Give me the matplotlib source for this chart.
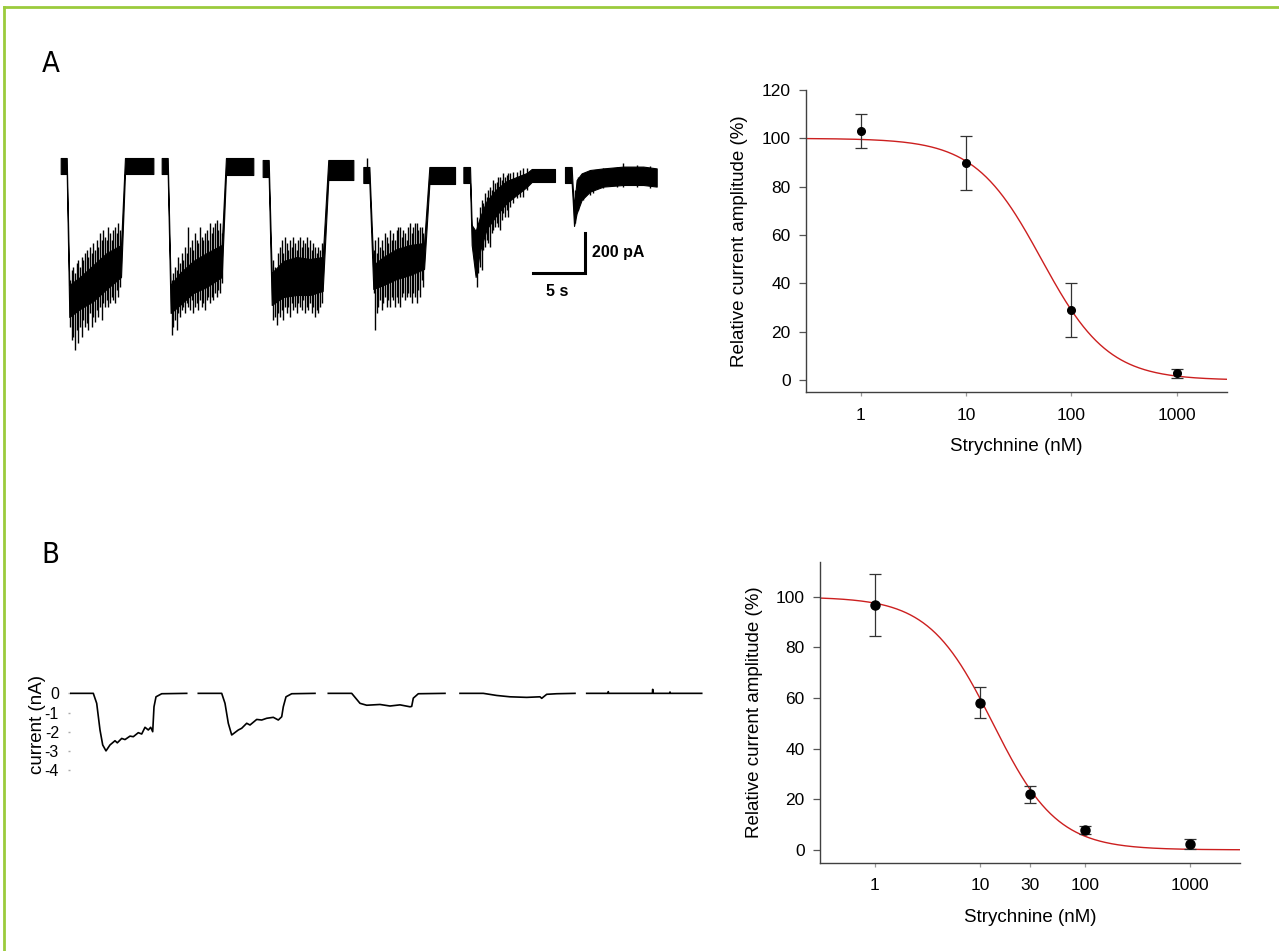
import numpy as np
import matplotlib.pyplot as plt
from matplotlib.lines import Line2D

plt.rcParams['font.family'] = ['Liberation Sans', 'DejaVu Sans']

# --- panel A, left: current trace (s, pA), dense core of each response ---
trace_a_t = [
    [1.99, 2.57, 2.82, 3.85, 5.13, 6.41, 7.79, 8.17, 10.90],
    [11.70, 12.28, 12.56, 13.46, 14.74, 16.03, 17.47, 17.88, 20.51],
    [21.41, 21.99, 22.28, 23.40, 24.68, 25.96, 27.18, 27.72, 30.13],
    [31.09, 31.67, 32.05, 33.02, 34.30, 35.58, 36.93, 37.44, 39.91],
    [40.71, 41.35, 41.51, 41.89, 42.31, 42.95, 43.91, 44.87, 45.83, 46.80, 47.28, 49.52],
    [50.48, 51.12, 51.22, 51.35, 51.60, 52.08, 52.89, 54.17, 56.09, 58.01, 59.30],
]
trace_a_hi = [
    [35, 35, -600, -560, -500, -440, -400, 35, 35],
    [35, 35, -600, -540, -480, -440, -400, 35, 35],
    [25, 25, -540, -480, -460, -470, -460, 25, 25],
    [-10, -10, -500, -460, -420, -400, -390, -10, -10],
    [-10, -10, -300, -330, -260, -180, -120, -80, -60, -40, -20, -20],
    [-10, -10, -108, -208, -75, -42, -25, -17, -8, -8, -17],
]
trace_a_lo = [
    [-45, -45, -760, -720, -680, -620, -560, -45, -45],
    [-45, -45, -740, -700, -640, -610, -560, -50, -50],
    [-60, -60, -700, -660, -650, -650, -630, -75, -75],
    [-90, -90, -620, -600, -570, -550, -520, -95, -95],
    [-90, -90, -400, -560, -430, -320, -250, -190, -150, -110, -85, -85],
    [-90, -90, -175, -305, -242, -175, -133, -108, -100, -100, -108],
]
# noise excursions: time, top, bottom
spike_a_t = [2.88, 3.04, 3.21, 3.37, 3.53, 3.69, 3.85, 4.01, 4.17, 4.33, 4.49, 4.65, 4.81, 4.97, 5.13, 5.29,
             5.45, 5.61, 5.77, 5.93, 6.09, 6.25, 6.41, 6.57, 6.73, 6.89, 7.05, 7.21, 7.37, 7.53, 7.69,
             12.66, 12.82, 12.98, 13.14, 13.30, 13.46, 13.62, 13.78, 13.94, 14.10, 14.26, 14.42, 14.58, 14.74,
             14.90, 15.06, 15.22, 15.38, 15.54, 15.71, 15.87, 16.03, 16.19, 16.35, 16.51, 16.67, 16.83, 16.99,
             17.15, 17.31, 17.47,
             22.44, 22.60, 22.76, 22.92, 23.08, 23.24, 23.40, 23.56, 23.72, 23.88, 24.04, 24.20, 24.36, 24.52,
             24.68, 24.84, 25.00, 25.16, 25.32, 25.48, 25.64, 25.80, 25.96, 26.12, 26.28, 26.44, 26.60, 26.76,
             26.92, 27.08,
             31.49, 32.12, 32.25, 32.37, 32.53, 32.69, 32.85, 33.02, 33.18, 33.34, 33.50, 33.66, 33.82, 33.98,
             34.14, 34.30, 34.46, 34.62, 34.78, 34.94, 35.10, 35.26, 35.42, 35.58, 35.74, 35.90, 36.06, 36.22,
             36.38, 36.54, 36.70, 36.86,
             41.99, 42.15, 42.31, 42.47, 42.63, 42.79, 42.95, 43.11, 43.27, 43.43, 43.59, 43.75, 43.91, 44.07,
             44.23, 44.39, 44.55, 44.71, 44.87, 45.03, 45.19, 45.51, 45.83, 46.16, 46.48, 46.80,
             51.45, 51.77, 52.25, 52.89, 53.14, 54.17, 55.45, 56.09, 57.37, 58.65]
spike_a_top = [-575, -525, -508, -542, -492, -475, -508, -458, -475, -442, -425, -458, -408, -442, -392, -425,
               -375, -408, -342, -375, -325, -358, -375, -308, -342, -375, -325, -308, -342, -292, -325,
               -575, -542, -508, -525, -458, -492, -442, -475, -408, -442, -308, -408, -375, -425,
               -342, -375, -392, -308, -358, -375, -342, -325, -375, -292, -342, -308, -292, -275,
               -325, -292, -342,
               -475, -508, -542, -442, -408, -375, -442, -358, -392, -425, -375, -408, -358, -392,
               -425, -375, -358, -408, -375, -392, -358, -408, -375, -425, -392, -408, -442, -408,
               -425, -392,
               33, -425, -375, -442, -358, -408, -375, -425, -342, -358, -392, -325, -375, -342,
               -375, -325, -308, -308, -358, -325, -342, -375, -308, -292, -342, -308, -292, -292,
               -325, -308, -308, -342,
               -258, -292, -208, -175, -192, -142, -158, -125, -108, -125, -75, -92, -83, -58,
               -58, -75, -42, -58, -50, -42, -42, -33, -33, -25, -17, -17,
               -125, -58, -42, -25, -33, -17, -8, 12, 0, -5]
spike_a_bot = [-808, -875, -858, -925, -825, -892, -808, -858, -775, -808, -792, -825, -742, -808, -758, -783,
               -725, -758, -708, -775, -692, -708, -675, -708, -692, -658, -675, -692, -625, -658, -608,
               -850, -808, -775, -825, -742, -758, -725, -708, -742, -692, -708, -725, -675, -742,
               -708, -692, -725, -675, -708, -692, -725, -675, -658, -692, -658, -675, -642, -658,
               -625, -642, -592,
               -775, -758, -800, -742, -758, -725, -775, -708, -742, -708, -758, -692, -725, -708,
               -742, -692, -708, -725, -675, -742, -708, -725, -692, -742, -708, -758, -725, -742,
               -708, -692,
               -50, -642, -825, -742, -708, -675, -725, -692, -658, -708, -675, -708, -658, -675,
               -708, -658, -692, -708, -658, -642, -675, -658, -642, -658, -692, -642, -658, -692,
               -625, -658, -575, -608,
               -608, -542, -508, -525, -425, -408, -375, -392, -408, -342, -325, -308, -292, -308,
               -325, -275, -242, -258, -225, -258, -208, -192, -167, -158, -158, -125,
               -292, -225, -175, -150, -142, -117, -108, -108, -108, -117]

# --- panel B, left: current trace (nA) ---
trace_b_t = [
    [0.07, 2.33, 2.67, 3.00, 3.27, 3.60, 4.00, 4.50, 4.73, 5.17, 5.50, 6.00, 6.33, 6.83, 7.17, 7.50, 7.83, 8.07,
     8.27, 8.40, 8.60, 9.17, 11.67],
    [12.83, 15.17, 15.50, 15.83, 16.17, 16.40, 16.83, 17.17, 17.67, 18.00, 18.67, 19.17, 19.67, 20.33, 20.83,
     21.17, 21.33, 21.60, 22.17, 24.50],
    [25.83, 28.17, 29.00, 29.67, 31.00, 32.00, 33.00, 34.00, 34.17, 34.33, 34.83, 37.50],
    [39.00, 41.33, 42.67, 44.00, 45.67, 47.00, 47.17, 47.67, 48.67, 50.50],
    [51.67, 53.80, 53.83, 53.86, 58.24, 58.27, 58.30, 59.97, 60.00, 60.03, 63.17],
]
trace_b_i = [
    [0, 0, -0.52, -1.91, -2.69, -3.0, -2.69, -2.47, -2.58, -2.35, -2.41, -2.23, -2.26, -2.05, -2.12, -1.77, -1.91,
     -1.77, -2.0, -0.70, -0.18, -0.02, 0],
    [0, 0, -0.52, -1.56, -2.17, -2.08, -1.91, -1.82, -1.56, -1.65, -1.36, -1.39, -1.30, -1.25, -1.39,
     -1.22, -0.70, -0.18, -0.02, 0],
    [0, 0, -0.52, -0.62, -0.58, -0.66, -0.60, -0.70, -0.68, -0.25, -0.02, 0],
    [0, 0, -0.11, -0.18, -0.21, -0.18, -0.26, -0.05, -0.02, 0],
    [0, 0, 0.09, 0, 0, 0.21, 0, 0, 0.07, 0, 0],
]
b_yticks = [0, -1, -2, -3, -4]

# --- dose response data ---
conc_a = [1, 10, 100, 1000]
resp_a = [103, 89.9, 29, 2.8]
err_a = [7, 11.2, 11, 2]
ic50_a, hill_a = 52.0, 1.37

conc_b = [1, 10, 30, 100, 1000]
resp_b = [96.7, 58.2, 21.9, 7.8, 2.2]
err_b = [12.3, 6, 3.2, 1.5, 1.9]
ic50_b, hill_b = 13.3, 1.42

W, H = 1279, 951
fig = plt.figure(figsize=(W / 100, H / 100), dpi=100)


def px_axes(x0, y0, x1, y1):
    return fig.add_axes([x0 / W, 1 - y1 / H, (x1 - x0) / W, (y1 - y0) / H])


# green frame
green = '#9BCB3C'
fig.add_artist(Line2D([3.5 / W, 1], [1 - 7 / H, 1 - 7 / H], transform=fig.transFigure, color=green, lw=2))
fig.add_artist(Line2D([3.5 / W, 3.5 / W], [0, 1 - 7 / H], transform=fig.transFigure, color=green, lw=2))

# panel letters
for lab, yc in [('A', 63.7), ('B', 555)]:
    fig.text(41.7 / W, 1 - yc / H, lab, fontsize=21, ha='left', va='center', fontstretch='condensed',
             family=['Liberation Sans Narrow', 'DejaVu Sans'])

# trace A
ax = px_axes(40, 140, 680, 360)
for t, hi, lo in zip(trace_a_t, trace_a_hi, trace_a_lo):
    ax.fill_between(t, lo, hi, color='black', lw=0.8)
ax.vlines(spike_a_t, spike_a_bot, spike_a_top, color='black', lw=1.0)
ax.plot([47.4, 52.4, 52.4], [-540, -540, -340], color='black', lw=2.2, solid_joinstyle='miter')
ax.text(53.05, -440, '200 pA', fontsize=11.5, fontweight='bold', ha='left', va='center')
ax.text(49.76, -630, '5 s', fontsize=11.5, fontweight='bold', ha='center', va='center')
ax.set_xlim(0, 61.54)
ax.set_ylim(-975, 125)
ax.axis('off')

# trace B
ax = px_axes(70, 650, 710, 800)
for t, i in zip(trace_b_t, trace_b_i):
    ax.plot(t, i, color='black', lw=1.2)
ax.set_xlim(0, 64)
ax.set_ylim(-5.56, 2.26)
for s in ax.spines.values():
    s.set_visible(False)
ax.set_xticks([])
ax.set_yticks(b_yticks)
ax.set_yticklabels([str(v) for v in b_yticks])
ax.tick_params(axis='y', length=1.5, width=1, color='#aaaaaa', pad=6.5, labelsize=11.5)
ax.set_ylabel('current (nA)', fontsize=13.5)
ax.yaxis.set_label_coords(-0.0375, 0.5)


def dose_axes(ax, conc, resp, err, ic50, hill, ms, ylim, yticks, xticks):
    xs = np.logspace(np.log10(0.3), np.log10(3000), 400)
    ax.plot(xs, 100 / (1 + (xs / ic50) ** hill), color='#cc1f1f', lw=1.0, zorder=2)
    ax.errorbar(conc, resp, yerr=err, fmt='o', color='black', ms=ms, ecolor='#333333',
                elinewidth=0.9, capsize=4, capthick=0.9, zorder=3)
    ax.set_xscale('log')
    ax.set_xlim(0.3, 3000)
    ax.set_ylim(*ylim)
    ax.set_yticks(yticks)
    ax.set_xticks(xticks)
    ax.set_xticklabels([str(v) for v in xticks])
    ax.minorticks_off()
    for s in ['top', 'right']:
        ax.spines[s].set_visible(False)
    for s in ['left', 'bottom']:
        ax.spines[s].set_color('#404040')
        ax.spines[s].set_linewidth(1.0)
    ax.tick_params(axis='y', length=5, width=0.9, color='#555555', pad=6, labelsize=12.5)
    ax.tick_params(axis='x', length=2.7, width=0.9, color='#999999', pad=8.3, labelsize=12.5)
    ax.set_ylabel('Relative current amplitude (%)', fontsize=13.5)
    ax.set_xlabel('Strychnine (nM)', fontsize=13.5)
    ax.xaxis.set_label_coords(0.5, -0.152)


ax = px_axes(806, 90, 1226.7, 392.3)
dose_axes(ax, conc_a, resp_a, err_a, ic50_a, hill_a, 5.5, (-5, 120), range(0, 121, 20), [1, 10, 100, 1000])
ax.yaxis.set_label_coords(-0.138, 0.5)

ax = px_axes(820, 562, 1240, 863)
dose_axes(ax, conc_b, resp_b, err_b, ic50_b, hill_b, 6.5, (-5.2, 113.8), range(0, 101, 20), [1, 10, 30, 100, 1000])
ax.yaxis.set_label_coords(-0.136, 0.5)

fig.savefig('out.png', dpi=100)
